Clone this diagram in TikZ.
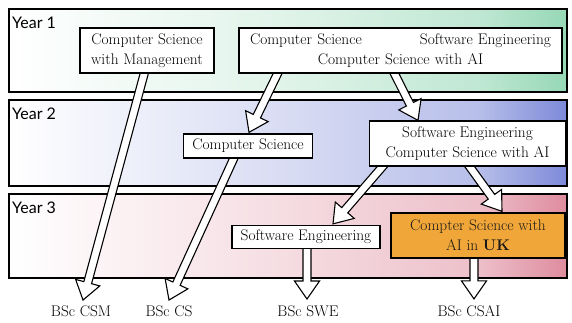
\documentclass[tikz,border=0pt]{standalone}
\usepackage{fontspec}
\setmainfont{Latin Modern Roman}
\newfontfamily\yearfont{Lato}
\usetikzlibrary{calc}
\definecolor{gA}{RGB}{150,216,182}
\definecolor{bA}{RGB}{125,138,216}
\definecolor{pA}{RGB}{222,140,158}
\definecolor{orangebox}{RGB}{240,166,56}
\pgfdeclarehorizontalshading{bandgreen}{100bp}{color(0bp)=(white); color(25bp)=(white); color(50bp)=(gA!30); color(67bp)=(gA!60); color(75bp)=(gA); color(100bp)=(gA)}
\pgfdeclarehorizontalshading{bandblue}{100bp}{color(0bp)=(white); color(25bp)=(white); color(50bp)=(bA!30); color(67bp)=(bA!55); color(75bp)=(bA); color(100bp)=(bA)}
\pgfdeclarehorizontalshading{bandpink}{100bp}{color(0bp)=(white); color(25bp)=(white); color(50bp)=(pA!30); color(67bp)=(pA!55); color(75bp)=(pA); color(100bp)=(pA)}
\newcommand\hollowarrow[2]{%
  \coordinate (ha) at (#1);
  \coordinate (hb) at (#2);
  \coordinate (hh) at ($(hb)!18pt!(ha)$);
  \draw[arrowline] ($(ha)!4pt!90:(hb)$) -- ($(hh)!4pt!-90:(ha)$) -- ($(hh)!12.5pt!-90:(ha)$) -- (hb) -- ($(hh)!12.5pt!90:(ha)$) -- ($(hh)!4pt!90:(ha)$) -- ($(ha)!4pt!-90:(hb)$) -- cycle;
}
\newcommand\boxfont{\fontsize{15.4}{20}\selectfont}
\begin{document}
\begin{tikzpicture}[x=1pt,y=-1pt,
  band/.style={draw=black, line width=1.3pt},
  yearlab/.style={font=\yearfont\fontsize{16}{18}\selectfont, anchor=base west, inner sep=0pt},
  box/.style={draw=black, line width=1.3pt, fill=white, align=center, inner sep=0pt, font=\boxfont},
  orangestyle/.style={box, fill=orangebox, text=black!90},
  lab/.style={anchor=base, inner sep=2pt, font=\boxfont},
  arrowline/.style={draw=black, line width=1.1pt, fill=white, line join=miter}]
\useasboundingbox (0,0) rectangle (572,322);
% bands
\shade[band, shading=bandgreen] (9,9) rectangle (567,92);
\shade[band, shading=bandblue] (9,100) rectangle (567,186);
\shade[band, shading=bandpink] (9,194) rectangle (567,278);
\node[yearlab] (y1) at (12,28) {Year 1};
\node[yearlab] (y2) at (12,119) {Year 2};
\node[yearlab] (y3) at (12,213) {Year 3};
% labels
\node[lab] (bsccsm) at (81,316) {BSc CSM};
\node[lab] (bsccs) at (169,316) {BSc CS};
\node[lab] (bscswe) at (308,316) {BSc SWE};
\node[lab] (bsccsai) at (469,316) {BSc CSAI};
% box positions (coordinates for arrows before drawing boxes)
\path (147,50.5) node[box, minimum width=134pt, minimum height=45pt, draw=none, fill=none] (csm) {\phantom{x}};
\path (400.5,50.5) node[box, minimum width=323pt, minimum height=45pt, draw=none, fill=none] (big) {\phantom{x}};
\path (248,146) node[box, minimum width=129pt, minimum height=24pt, draw=none, fill=none] (cs2) {\phantom{x}};
\path (467.5,143.5) node[box, minimum width=196pt, minimum height=45pt, draw=none, fill=none] (sw2) {\phantom{x}};
\path (306,237) node[box, minimum width=148pt, minimum height=23pt, draw=none, fill=none] (swe3) {\phantom{x}};
\path (478,235.5) node[box, minimum width=174pt, minimum height=45pt, draw=none, fill=none] (csai3) {\phantom{x}};
% arrows
\hollowarrow{[xshift=-2pt,yshift=3pt]csm.south}{[xshift=2pt,yshift=3pt]bsccsm.north}
\hollowarrow{[xshift=-121.5pt,yshift=3pt]big.south}{[xshift=1pt,yshift=1pt]cs2.north}
\hollowarrow{[xshift=-7.5pt,yshift=3pt]big.south}{[xshift=-49.5pt]sw2.north}
\hollowarrow{[xshift=-13pt,yshift=3pt]cs2.south}{[xshift=0pt,yshift=3pt]bsccs.north}
\hollowarrow{[xshift=-82.5pt,yshift=3pt]sw2.south}{[xshift=27pt,yshift=1pt]swe3.north}
\hollowarrow{[xshift=0pt,yshift=3pt]sw2.south}{[xshift=24pt,yshift=1pt]csai3.north}
\hollowarrow{[xshift=1pt,yshift=3pt]swe3.south}{[xshift=-1pt,yshift=4pt]bscswe.north}
\hollowarrow{[xshift=-4pt,yshift=3pt]csai3.south}{[xshift=5pt,yshift=4pt]bsccsai.north}
% boxes
\node[box, minimum width=134pt, minimum height=45pt] (csmb) at (csm) {Computer Science\\with Management};
\node[box, minimum width=323pt, minimum height=45pt, text width=301pt] (bigb) at (big) {Computer Science\hfill Software Engineering\\Computer Science with AI};
\node[box, minimum width=129pt, minimum height=24pt] (cs2b) at (cs2) {Computer Science};
\node[box, minimum width=196pt, minimum height=45pt] (sw2b) at (sw2) {Software Engineering\\Computer Science with AI};
\node[box, minimum width=148pt, minimum height=23pt] (swe3b) at (swe3) {Software Engineering};
\node[orangestyle, minimum width=174pt, minimum height=45pt] (csai3b) at (csai3) {Compter Science with\\AI in \textbf{UK}};
\end{tikzpicture}
\end{document}
